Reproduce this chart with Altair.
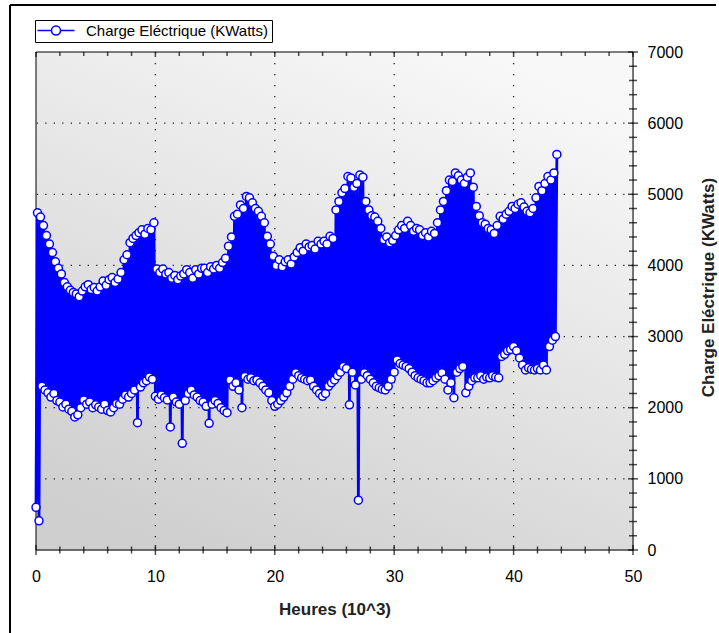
import altair as alt
import pandas as pd

SERIES = "Charge Eléctrique (KWatts)"
STEP = 0.25  # thousand hours between successive daily troughs

# Daily peak loads (KWatts), one every STEP, half a step after each trough
peaks = [
    4740, 4680, 4560, 4420, 4300, 4180, 4050, 3960,
    3880, 3760, 3700, 3650, 3620, 3600, 3560, 3640,
    3700, 3730, 3660, 3690, 3640, 3700, 3780, 3720,
    3800, 3830, 3760, 3810, 3900, 4080, 4150, 4320,
    4380, 4420, 4460, 4500, 4440, 4520, 4500, 4600,
    3950, 3900, 3950, 3880, 3900, 3820, 3860, 3800,
    3850, 3880, 3940, 3900, 3820, 3940, 3880, 3960,
    3960, 3900, 3980, 3950, 4000, 3960, 4040, 4100,
    4270, 4400, 4690, 4720, 4850, 4800, 4970, 4950,
    4880, 4800, 4760, 4690, 4600, 4410, 4300, 4130,
    4000, 4080, 3980, 4050, 4080, 4020, 4120, 4180,
    4250, 4200, 4300, 4260, 4280, 4230, 4340, 4300,
    4340, 4300, 4410, 4380, 4780, 4900, 5020, 5080,
    5250, 5230, 5100, 5150, 5270, 5240, 4900, 4780,
    4700, 4680, 4620, 4520, 4360, 4400, 4320, 4350,
    4420, 4500, 4560, 4520, 4620, 4560, 4480, 4520,
    4500, 4420, 4460, 4400, 4480, 4450, 4600, 4780,
    4900, 5050, 5200, 5180, 5300, 5260, 5200, 5150,
    5240, 5300, 5100, 4830, 4700, 4600, 4580, 4520,
    4500, 4450, 4560, 4690, 4650, 4720, 4760, 4830,
    4800, 4860, 4880, 4820, 4760, 4740, 4800, 4950,
    5110, 5050, 5150, 5250, 5200, 5300, 5560,
]

# Daily trough loads (KWatts), including the isolated low readings
troughs = [
    600, 410, 2300, 2250, 2210, 2150, 2200, 2100,
    2080, 2010, 2050, 1980, 1950, 1870, 1900, 2000,
    2110, 2050, 2080, 2000, 2040, 2010, 1980, 2050,
    1960, 1940, 2000, 2060, 2050, 2120, 2180, 2150,
    2200, 2250, 1790, 2290, 2350, 2380, 2430, 2400,
    2160, 2120, 2180, 2140, 2110, 1730, 2150, 2080,
    2050, 1500, 2100, 2200, 2250, 2180, 2150, 2100,
    2080, 2020, 1780, 2050, 2100, 2060, 2000, 1960,
    1930, 2390, 2300, 2350, 2250, 2000, 2440, 2400,
    2420, 2380, 2390, 2350, 2300, 2250, 2210, 2100,
    2020, 2050, 2100, 2150, 2210, 2300, 2400, 2490,
    2450, 2420, 2400, 2380, 2390, 2300, 2250, 2200,
    2160, 2200, 2300, 2350, 2390, 2450, 2500, 2580,
    2550, 2040, 2500, 2320, 700, 2400, 2490, 2450,
    2400, 2350, 2300, 2280, 2260, 2250, 2300, 2400,
    2500, 2670, 2620, 2600, 2580, 2550, 2500, 2450,
    2420, 2400, 2380, 2350, 2350, 2380, 2420, 2450,
    2490, 2400, 2250, 2350, 2140, 2500, 2550, 2580,
    2210, 2300, 2380, 2420, 2420, 2450, 2400, 2430,
    2420, 2450, 2430, 2420, 2720, 2750, 2800, 2820,
    2860, 2800, 2700, 2600, 2530, 2560, 2540, 2530,
    2550, 2530, 2600, 2530, 2860, 2950, 3000,
]

X_MAJOR = [0, 10, 20, 30, 40, 50]
X_MINOR = [v for v in range(0, 51, 2) if v % 10 != 0]
Y_MAJOR = list(range(0, 7001, 1000))
Y_MINOR = [v for v in range(0, 7001, 200) if v % 1000 != 0]
X_GRID = [10, 20, 30, 40]
Y_GRID = [1000, 2000, 3000, 4000, 5000, 6000]

W, H = 597, 498
BLUE = "#0000ff"
FONT = "Liberation Sans"

rows = []
for i, (lo, hi) in enumerate(zip(troughs, peaks)):
    rows.append({"t": i * STEP, "load": lo, "serie": SERIES})
    rows.append({"t": i * STEP + STEP / 2, "load": hi, "serie": SERIES})
df = pd.DataFrame(rows)

xs = alt.Scale(domain=[0, 50], nice=False, zero=False)
ys = alt.Scale(domain=[0, 7000], nice=False)
one = pd.DataFrame({"a": [0]})

# legend symbol: short line with an open circle in the middle
SYMBOL = "M-2,0H1.5M3.75,0H7.25M1.5,0A1.125,1.125,0,1,1,3.75,0A1.125,1.125,0,1,1,1.5,0Z"
legend = alt.Legend(
    title=None, orient="none", legendX=-1, legendY=-32,
    strokeColor="black", fillColor="white", padding=3, cornerRadius=0,
    labelFont=FONT, labelFontSize=15, labelColor="black", labelOffset=33,
    labelLimit=400,
    symbolType=SYMBOL, symbolSize=64, symbolStrokeWidth=1.5,
    symbolFillColor="white", symbolStrokeColor=BLUE,
)
stroke = alt.Stroke("serie:N", scale=alt.Scale(range=[BLUE]), legend=legend)

x_axis = alt.Axis(
    orient="bottom", values=X_MAJOR, ticks=False, tickSize=0, domain=False, grid=False,
    labelFont=FONT, labelFontSize=16, labelColor="black", labelPadding=18,
    labelFlush=False, labelOverlap=False, format="d",
    title="Heures (10^3)", titleFont=FONT, titleFontSize=17, titleFontWeight="bold",
    titleColor="#222222", titleY=64, titleBaseline="alphabetic", zindex=1,
)
y_axis = alt.Axis(
    orient="right", values=Y_MAJOR, ticks=False, tickSize=0, domain=False, grid=False,
    labelFont=FONT, labelFontSize=16, labelColor="black", labelPadding=14,
    labelAlign="left", labelBaseline="middle", labelFlush=False, labelOverlap=False, format="d",
    title=SERIES, titleFont=FONT, titleFontSize=17, titleFontWeight="bold",
    titleColor="#222222", titleAngle=270, titleX=75, titleY=235,
    titleAlign="center", titleBaseline="middle", zindex=1,
)

X = lambda f: alt.X(f, scale=xs, axis=x_axis)
Y = lambda f: alt.Y(f, scale=ys, axis=y_axis)

background = alt.Chart(one).mark_rect(
    fill=alt.LinearGradient(
        gradient="linear",
        stops=[alt.GradientStop(offset=0, color="#f8f8f8"),
               alt.GradientStop(offset=1, color="#cfcfcf")],
        x1=0.75, y1=0, x2=0.25, y2=1,
    ),
    stroke="black", strokeWidth=1,
).encode(x=alt.value(0), x2=alt.value(W), y=alt.value(0), y2=alt.value(H))

grid_x = alt.Chart(pd.DataFrame({"v": X_GRID})).mark_rule(
    color="#222222", strokeWidth=1.3, strokeDash=[1.3, 9.7]
).encode(x=X("v:Q"))

grid_y = alt.Chart(pd.DataFrame({"v": Y_GRID})).mark_rule(
    color="#222222", strokeWidth=1.3, strokeDash=[1.3, 7.2]
).encode(y=Y("v:Q"))

line = alt.Chart(df).mark_line(strokeWidth=2.8).encode(
    x=X("t:Q"), y=Y("load:Q"), stroke=stroke
)

# open circles drawn over the connecting line
points = alt.Chart(df).mark_point(
    shape="circle", filled=True, fill="white", size=64, strokeWidth=1.5, opacity=1
).encode(x=X("t:Q"), y=Y("load:Q"), stroke=stroke)


def xticks(values, y, size):
    return alt.Chart(pd.DataFrame({"v": values})).mark_tick(
        color="black", orient="vertical", size=size, thickness=1.5
    ).encode(x=X("v:Q"), y=alt.value(y))


def yticks(values, size):
    return alt.Chart(pd.DataFrame({"v": values})).mark_tick(
        color="black", orient="horizontal", size=size, thickness=1.5
    ).encode(y=Y("v:Q"), x=alt.value(W))


frame_top = alt.Chart(one).mark_rule(color="black", strokeWidth=2).encode(
    x=alt.value(-26), x2=alt.value(680), y=alt.value(-47)
)
frame_left = alt.Chart(one).mark_rule(color="black", strokeWidth=2).encode(
    x=alt.value(-26), y=alt.value(-47), y2=alt.value(600)
)

chart = alt.layer(
    background, grid_x, grid_y, line, points,
    xticks(X_MAJOR, H, 10), xticks(X_MINOR, H, 7),
    xticks(X_MAJOR, 2.5, 5), xticks(X_MINOR, 2, 4),
    yticks(Y_MAJOR, 10), yticks(Y_MINOR, 8),
    frame_top, frame_left,
).properties(
    width=W, height=H,
    padding={"left": 36, "top": 52, "right": 86, "bottom": 83},
    autosize=alt.AutoSizeParams(type="none"),
).configure_view(strokeWidth=0).configure(background="white")

chart.save("out.html", embed_options={"renderer": "svg", "actions": False})
